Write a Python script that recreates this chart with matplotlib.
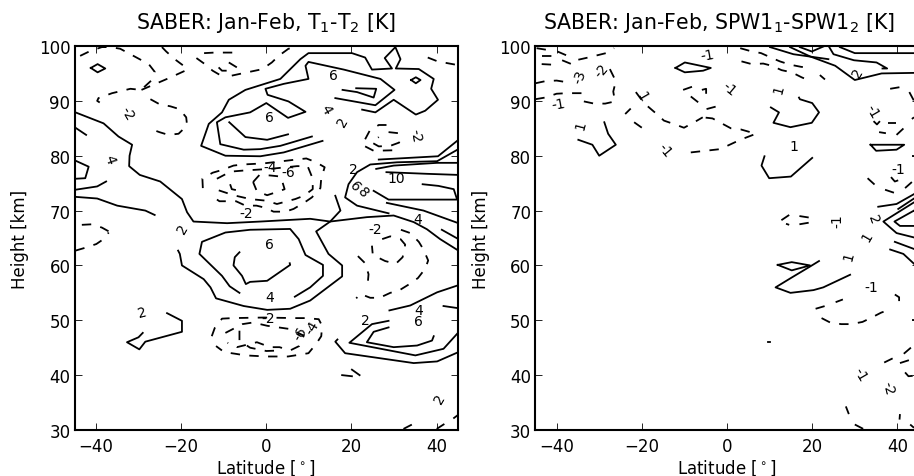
import matplotlib
matplotlib.use('Agg')
import matplotlib.pyplot as plt

# contour lines, (latitude, height) pairs
left_pos = [
    [(-44.8,87.9),(-38.2,85.9),(-34.7,83.5),(-31.5,82.0),(-32.1,80.0),(-32.2,78.1),(-29.7,76.5),(-24.9,75.3),(-19.8,72.1),(-18.6,69.7),(-17.1,68.0),(-9.2,67.7),(-1.4,68.0),(10.3,68.5),(15.0,68.0),(23.6,68.8),(29.9,69.1),(34.6,67.9),(37.7,66.6),(40.8,64.8),(45.1,62.7)],
    [(16.2,72.7),(17.4,70.0),(15.0,68.0),(11.7,66.2),(14.6,62.1),(17.8,60.0),(17.8,58.0),(10.3,53.6),(5.6,52.1),(0.2,51.9),(-5.3,52.6),(-11.8,54.0),(-13.1,56.0),(-14.7,57.5),(-19.8,60.0),(-20.3,62.1),(-20.7,62.7)],
    [(6.7,54.3),(10.3,56.0),(13.3,58.1),(13.3,60.1),(9.2,61.9),(7.6,64.8),(5.6,66.65),(-3.8,66.5),(-9.6,66.0),(-15.1,64.3),(-15.7,62.1),(-10.4,58.1),(-8.6,56.2),(-6.3,55.0)],
    [(-6.3,62.4),(-7.4,61.5),(-7.7,60.0),(-5.7,58.1),(-4.8,56.6),(-3.8,57.0),(0.2,57.2),(5.6,60.1),(5.5,60.4)],
    [(-23.3,51.3),(-19.8,49.9),(-19.8,47.9),(-28.4,46.1),(-29.8,44.7),(-32.7,46.0),(-30.0,46.9),(-29.0,47.7)],
    [(-44.8,85.1),(-42.3,83.8)],
    [(-44.8,79.1),(-41.7,78.0),(-42.5,75.9),(-44.8,75.8)],
    [(-44.8,73.8),(-39.7,74.4),(-37.6,75.3)],
    [(-44.8,72.5),(-39.7,72.2),(-35.0,70.9),(-28.4,70.0),(-26.2,69.2)],
    [(-41.2,96.0),(-39.6,96.7),(-37.8,95.9),(-39.6,95.2),(-41.2,96.0)],
    [(13.2,82.7),(4.1,80.6),(-1.4,79.9),(-9.6,80.0),(-15.3,81.8),(-13.5,85.8),(-10.4,87.9),(-8.8,90.2),(-4.9,92.0),(3.3,94.0),(8.0,97.6),(9.9,98.7),(20.1,98.7),(23.2,97.9),(24.8,95.7),(29.5,95.9),(27.8,97.8),(30.3,99.8),(31.5,97.6),(30.4,95.9),(35.8,95.8),(39.3,94.0),(38.7,92.2),(40.3,90.2),(37.3,88.2),(35.1,87.5),(29.9,90.2),(25.6,87.9),(22.5,88.4)],
    [(16.2,90.5),(25.6,89.2),(30.1,92.0),(26.8,94.0),(18.2,95.7),(9.9,97.1),(9.2,96.4),(9.9,94.0),(4.1,93.1),(-0.2,92.2),(0.3,91.1),(5.2,89.9),(9.2,88.0),(5.1,86.9),(0.0,89.6),(-3.8,87.9),(-9.6,87.0),(-11.6,86.1),(-10.8,82.1),(-5.3,81.1),(-1.4,81.2),(3.3,81.8),(10.7,83.5)],
    [(-8.7,86.1),(-4.9,83.4),(0.2,82.9),(5.1,83.9)],
    [(17.9,92.0),(21.3,91.6),(25.2,90.6),(25.8,92.2),(21.1,92.3)],
    [(34.0,93.8),(35.1,94.3),(36.2,93.8),(35.1,93.2),(34.0,93.8)],
    [(45.1,82.9),(40.3,79.9),(26.4,79.3)],
    [(45.1,81.2),(40.1,79.0),(30.7,78.8),(24.4,78.4),(21.3,77.0),(19.3,74.8),(18.5,72.4),(21.3,70.9),(28.7,69.5)],
    [(45.1,78.7),(40.1,78.7),(29.9,78.2),(25.8,77.6)],
    [(45.1,76.5),(37.7,76.7),(28.2,77.0)],
    [(25.2,73.6),(28.7,72.0),(44.8,72.0),(44.0,73.9),(40.4,74.5),(36.7,74.8)],
    [(28.3,71.4),(36.9,70.0),(45.1,67.7)],
    [(41.2,66.5),(45.1,64.8)],
    [(41.6,52.6),(45.1,52.2)],
    [(16.7,46.5),(16.2,46.1),(18.5,44.0),(34.6,42.2),(40.1,42.5),(45.1,44.2)],
    [(28.7,49.9),(24.8,49.3),(19.5,45.9),(35.0,43.6),(41.6,44.8),(45.1,47.8),(45.1,50.2)],
    [(28.7,48.7),(25.2,47.9),(23.6,46.0),(29.9,45.1),(35.4,45.4),(38.9,46.3),(39.3,47.1)],
    [(28.9,51.8),(33.8,52.7),(40.1,55.1),(45.1,56.4)],
    [(17.8,40.0),(20.1,39.8)],
    [(20.1,41.0),(21.9,40.0)],
]

left_neg = [
    [(-43.7,98.2),(-41.3,99.1),(-38.6,99.8),(-36.6,99.8),(-34.3,99.5),(-31.9,98.5),(-27.6,96.7),(-26.2,95.3),(-27.0,93.7),(-29.4,92.0),(-31.9,92.2),(-36.2,91.4),(-39.4,90.5),(-39.7,90.0),(-39.1,89.7)],
    [(-29.3,92.0),(-22.7,94.2),(-18.2,95.8)],
    [(-24.5,99.8),(-23.5,99.0),(-21.5,97.6),(-19.6,96.5)],
    [(-14.6,98.7),(-12.2,98.8),(-7.3,98.8)],
    [(-16.4,97.8),(-14.6,96.8),(-12.6,95.5),(-10.4,94.5)],
    [(-11.2,96.1),(-10.4,95.5),(-8.8,95.5)],
    [(-8.8,97.0),(-6.7,96.0)],
    [(-8.1,94.6),(-5.7,95.0),(-1.4,95.7),(-0.9,95.8),(1.3,97.0),(2.9,98.2),(5.2,99.5),(7.2,99.8)],
    [(-27.2,90.3),(-25.1,89.4),(-22.5,89.0),(-20.4,88.5),(-18.8,87.0),(-18.6,85.5),(-20.6,84.0),(-23.0,83.8),(-25.1,84.3),(-27.2,84.9)],
    [(37.9,97.9),(40.2,97.2),(45.1,96.5)],
    [(23.2,83.0),(24.3,84.6),(26.4,85.6),(28.5,85.6)],
    [(23.2,81.7),(25.2,80.9),(30.4,81.0)],
    [(28.7,84.3),(31.1,84.1),(31.2,82.4),(29.1,81.8),(26.4,81.7),(24.8,82.4),(26.4,83.4)],
    [(-14.9,74.1),(-15.0,75.8),(-12.6,76.9),(-10.4,77.4),(-7.7,78.2),(-5.6,78.4),(-0.6,78.6),(7.0,79.3),(9.4,79.5),(11.7,78.8),(13.7,77.9),(12.9,75.9),(12.7,74.1),(10.7,72.4),(9.0,71.5),(6.4,70.3),(4.5,69.8),(1.7,69.8),(-0.2,70.5),(-2.3,70.9),(-4.9,70.9),(-7.1,71.7),(-11.0,71.7),(-12.9,72.7)],
    [(-11.6,75.8),(-8.4,77.1),(-5.3,77.3),(0.9,77.6),(7.2,78.1),(9.7,78.1),(10.9,75.8),(10.9,73.9),(8.8,72.7),(6.8,72.1),(2.5,71.2),(0,71.8),(-3.8,72.1),(-7.7,72.8),(-11.6,73.8)],
    [(-3.1,75.2),(-1.6,76.5),(0.9,76.4),(3.4,76.2),(4.3,73.9),(2.9,73.5),(0.2,72.8),(-2.2,73.5),(-3.1,75.2)],
    [(-8.5,74.8),(-8.1,73.9),(-6.9,73.7)],
    [(-12.8,47.1),(-12.1,48.6),(-10.4,50.3),(-7.9,50.4),(-0.6,50.5),(6.7,50.4),(9.2,50.4),(12.3,50.2),(13.1,49.0),(12.9,47.1),(11.7,45.7),(9.9,44.0),(7.6,43.7),(5.1,43.4),(0,43.4),(-4.9,43.6),(-7.3,43.9),(-9.9,44.2),(-11.8,45.3)],
    [(-9.6,47.7),(-5.6,49.3),(-3.1,49.6),(0.2,49.0),(5.6,48.4),(8.8,47.2),(7.7,45.3),(5.6,44.5),(3.1,45.1),(0.9,45.1),(-2.2,46.0),(-6.9,45.1),(-9.1,45.9)],
    [(-6.3,48.1),(-6.3,46.3),(-3.8,45.0),(0,44.4),(3.5,44.5)],
    [(31.6,66.5),(33.8,65.9),(35.8,64.3),(36.9,62.9),(38.0,60.9),(37.3,59.4),(35.6,57.7),(33.6,56.6),(31.3,55.5),(29.1,55.0),(26.6,54.1),(24.4,54.1),(22.1,54.8),(21.1,54.0)],
    [(21.5,61.7),(23.2,60.4),(24.0,58.4),(23.8,56.6)],
    [(27.2,64.8),(29.1,65.3),(31.5,64.8),(32.6,63.8),(32.0,61.5),(30.4,60.3),(27.9,60.8),(25.8,61.6),(25.0,61.9),(24.8,63.6)],
    [(-43.3,67.4),(-40.9,67.5),(-38.6,66.9),(-36.5,66.0)],
    [(-44.8,62.7),(-42.6,63.2),(-39.9,63.9),(-38.2,64.8),(-37.0,66.0)],
    [(32.2,30.2),(34.2,31.0)],
    [(40.0,30.2),(41.8,31.1)],
    [(43.9,32.1),(45.1,32.8)],
]

left_labels = [
    (-32.6,87.8,'-2',-60),(-36.8,79.4,'4',-70),(-19.6,66.8,'2',60),(-4.7,69.6,'-2',0),
    (15.8,94.8,'6',0),(0.8,87.0,'6',0),(13.9,88.5,'4',-60),(18.0,86.3,'2',60),(35.0,83.7,'-2',-80),
    (0.9,78.0,'-4',0),(5.2,77.0,'-6',0),(20.5,77.6,'2',0),(20.7,74.5,'6',-50),(22.7,73.5,'8',-50),
    (30.4,75.9,'10',0),(35.6,68.5,'4',0),(25.6,66.6,'-2',0),(0.7,63.9,'6',0),(0.7,54.2,'4',0),
    (0.5,50.4,'-2',0),(10.7,48.7,'-4',60),(8.1,47.6,'-6',60),(23.2,50.1,'2',0),(35.8,51.8,'4',0),
    (35.8,49.8,'6',0),(40.8,35.8,'2',60),(-29.2,51.5,'2',15),
]

right_pos = [
    [(-34.9,82.9),(-31.6,82.0),(-30.0,80.0),(-26.1,82.0),(-27.9,84.0),(-28.8,86.1)],
    [(-12.1,96.0),(-9.9,97.0),(-3.8,96.0),(-5.6,95.5),(-9.9,95.2),(-12.1,96.0)],
    [(10.3,88.8),(12.2,87.9),(10.9,86.0),(14.9,85.2),(19.9,86.0),(21.6,87.9),(20.0,89.6),(17.1,90.3),(16.9,90.6)],
    [(8.8,79.9),(8.1,78.2),(9.9,75.9),(15.0,76.2),(20.0,79.6)],
    [(33.7,82.0),(41.6,82.0),(39.8,81.1),(35.0,80.9),(33.7,82.0)],
    [(10.1,99.8),(15.6,98.5),(23.8,97.6)],
    [(17.1,99.8),(19.9,99.0),(22.6,99.9)],
    [(14.8,99.8),(19.5,98.1),(25.4,96.4),(30.0,93.8),(36.3,95.0),(44.0,95.1),(46.0,95.1)],
    [(24.0,99.8),(25.0,98.5),(29.8,97.4),(35.1,97.0),(37.6,95.9),(36.5,95.9)],
    [(26.5,99.8),(30.0,98.7),(39.8,98.7),(44.0,98.7),(46.0,98.7)],
    [(35.5,70.7),(39.8,71.2),(43.9,73.0),(46.0,74.0)],
    [(40.2,70.3),(43.9,72.2),(46.0,73.2)],
    [(46.0,72.0),(43.9,71.5),(36.7,68.0),(39.8,65.9),(43.9,65.1),(46.0,64.5)],
    [(46.0,71.2),(43.9,70.0),(39.3,68.0),(40.6,67.2),(43.9,67.2),(46.0,67.2)],
    [(39.4,64.3),(43.9,63.0),(46.0,62.0)],
    [(38.3,62.9),(41.4,62.1),(43.9,60.3),(46.0,59.0)],
    [(11.9,60.1),(15.2,60.6),(19.5,60.0),(15.2,59.1),(11.9,60.1)],
    [(21.6,60.8),(19.5,59.8),(15.2,57.8),(11.4,56.0),(14.9,55.0),(20.3,55.5),(22.6,56.0),(28.9,58.3)],
    [(9.7,46.1),(10.2,46.1)],
]

right_neg = [
    [(-44.7,99.6),(-42.3,99.3)],
    [(-43.5,98.1),(-41.1,98.1)],
    [(-43.5,96.7),(-41.1,96.6)],
    [(-39.8,99.0),(-37.4,98.2)],
    [(-38.7,97.4),(-36.5,96.7)],
    [(-34.9,97.5),(-32.6,97.9),(-28.4,98.7),(-26.5,99.6)],
    [(-45,93.2),(-42.6,93.6),(-40,93.7),(-37.6,93.4)],
    [(-45,90.3),(-42.7,90.6),(-40,91.3),(-37.6,91.4),(-35.1,91.4),(-32.7,91.4)],
    [(-33.6,89.9),(-31.2,89.5),(-28.6,89.5),(-26.3,89.9),(-26.7,91.7),(-26.1,93.6),(-27.5,95.8),(-28.1,96.7)],
    [(-23.9,87.6),(-22.6,88.6)],
    [(-21.8,86.1),(-19.8,85.0)],
    [(-21.4,91.6),(-19.5,89.6),(-16.5,87.6),(-14.8,86.4),(-12.2,85.7),(-10.1,85.1),(-7.7,86.1),(-5.7,87.0)],
    [(-4.8,88.5),(-2.4,89.0)],
    [(-8.5,80.6),(-1.6,81.2),(3.1,82.9),(6.8,84.0),(3.2,84.8),(0.9,85.0),(-3.4,86.8),(-5.7,87.0)],
    [(-10.3,92.0),(-8.1,92.6)],
    [(-5.9,92.0),(-4.9,92.2),(-4.9,91.1)],
    [(-8.5,90.8),(-6.7,89.7)],
    [(3.1,99.6),(5.4,99.1),(8.0,98.7),(10.3,97.9),(12.4,97.2),(14.8,96.6),(17.4,96.2),(19.7,96.0)],
    [(3.4,97.2),(5.8,96.7),(8.5,96.8),(10.5,96.4),(12.8,95.6),(15.2,95.2),(17.5,94.3),(19.9,93.5)],
    [(21.8,94.7),(23.0,93.9)],
    [(38.3,92.2),(40.6,92.5)],
    [(42.8,91.6),(43.9,90.0)],
    [(34.4,86.3),(35.2,85.7),(35.9,86.3)],
    [(37.9,86.0),(39.7,86.0)],
    [(35.7,84.3),(37.3,84.1)],
    [(39.8,83.8),(41.6,85.1)],
    [(43.4,86.7),(43.9,87.0)],
    [(33.0,75.9),(34.7,74.7)],
    [(37.1,73.8),(39.4,73.2)],
    [(38.5,76.1),(39.4,75.3),(40.5,75.6)],
    [(41.8,74.1),(43.4,75.2)],
    [(43.4,80.0),(43.9,80.0)],
    [(14.6,69.2),(12.3,68.0),(14.6,67.4)],
    [(17.0,69.0),(19.5,68.7)],
    [(17.0,67.5),(19.3,67.8)],
    [(20.8,52.1),(23.0,52.6)],
    [(25.5,53.3),(27.2,53.8)],
    [(22.2,50.4),(24.2,49.6),(26.8,49.3),(29.1,49.3),(31.8,49.7),(33.7,50.4),(36.2,51.4),(38.4,52.0)],
    [(39.4,54.7),(40.4,54.2),(40.4,53.5)],
    [(36.9,42.3),(39.0,43.1)],
    [(40.6,42.2),(43.0,42.8)],
    [(41.5,43.9),(43.3,45.1)],
    [(41.8,40.5),(42.6,39.8),(43.9,39.9)],
    [(27.9,34.3),(28.6,32.9)],
    [(30.0,31.0),(32.0,30.2)],
    [(40.6,32.9),(40.5,31.9)],
    [(43.0,31.0),(43.9,30.4)],
    [(43.4,50.1),(43.9,50.1)],
]

right_labels = [
    (-4.6,98.4,'-1',10),(-29.4,95.5,'-2',50),(-34.5,94.4,'-3',70),(-39.6,89.4,'-1',10),
    (-34.3,85.6,'1',75),(-14.7,81.1,'-1',-50),(-20.0,91.0,'1',-60),(0.5,92.2,'-1',-40),
    (12.2,92.2,'1',75),(15.6,81.7,'1',0),(30.6,95.2,'2',60),(34.2,88.2,'-1',-60),
    (40.2,77.6,'-1',0),(25.9,68.2,'-1',90),(34.4,68.5,'2',-70),(32.8,65.4,'1',60),
    (28.5,61.8,'1',75),(33.8,56.0,'-1',0),(31.2,40.2,'-1',-60),(37.7,37.8,'-2',-75),
]

x_ticks = [-40, -20, 0, 20, 40]
y_ticks = [30, 40, 50, 60, 70, 80, 90, 100]

W, H = 914, 477


def draw_panel(rect, pos, neg, labels, title, title_x):
    ax = plt.gcf().add_axes(rect)
    for line in pos:
        ax.plot([p[0] for p in line], [p[1] for p in line], color='k', lw=1.3)
    for line in neg:
        ax.plot([p[0] for p in line], [p[1] for p in line], color='k', lw=1.3,
                linestyle=(0, (5.2, 5.2)))
    for x, y, s, rot in labels:
        ax.text(x, y, s, fontsize=10, rotation=rot, ha='center', va='center',
                rotation_mode='anchor', clip_on=True)
    ax.set_xlim(-45, 45)
    ax.set_ylim(30, 100)
    ax.set_xticks(x_ticks)
    ax.set_yticks(y_ticks)
    ax.tick_params(direction='in', top=True, right=True, length=5, width=0.6, labelsize=12)
    ax.tick_params(axis='x', pad=5)
    ax.tick_params(axis='y', pad=3)
    for s in ax.spines.values():
        s.set_linewidth(1.5)
    ax.set_xlabel(r'Latitude [$^\circ$]', fontsize=12, labelpad=2)
    ax.set_ylabel('Height [km]', fontsize=12, labelpad=7)
    ax.set_title(title, fontsize=14.8, pad=13, x=title_x)
    return ax


fig = plt.figure(figsize=(W / 100, H / 100), dpi=100)
bottom = 1 - 431 / H
height = 384 / H
draw_panel([74.6 / W, bottom, 383.4 / W, height], left_pos, left_neg, left_labels,
           'SABER: Jan-Feb, T$_1$-T$_2$ [K]', 0.5)
draw_panel([535.3 / W, bottom, 383.4 / W, height], right_pos, right_neg, right_labels,
           'SABER: Jan-Feb, SPW1$_1$-SPW1$_2$ [K]', 0.48)
fig.savefig('out.png', dpi=100)
